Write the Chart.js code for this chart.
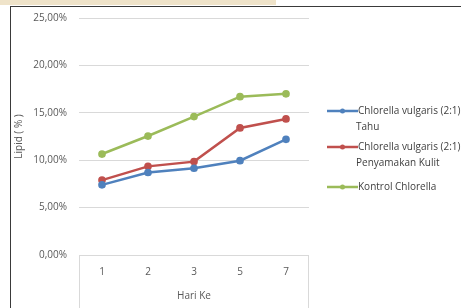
<!DOCTYPE html>
<html>
<head>
  <meta charset="utf-8">
  <title>Lipid Chlorella</title>
  <script src="https://cdn.jsdelivr.net/npm/chart.js"></script>
  <style>
    body { margin: 0; padding: 0; background: #fff; overflow: hidden; }
    #strip { position: absolute; left: 0; top: 0; width: 276px; height: 5px; background: #efe3c9; }
    #frame { position: absolute; left: 10px; top: 6px; width: 460px; height: 320px;
             border-top: 1px solid #3a3a3a; border-left: 1px solid #3a3a3a; }
    #wrap { position: absolute; left: 0; top: 0; width: 461px; height: 308px; }
  </style>
</head>
<body>
  <div id="strip"></div>
  <div id="frame"></div>
  <div id="wrap"><canvas id="chart"></canvas></div>

  <script>
    // data
    const days = ['1', '2', '3', '5', '7'];
    const tahu = [7.4, 8.7, 9.15, 9.95, 12.2];
    const kulit = [7.9, 9.35, 9.85, 13.4, 14.35];
    const kontrol = [10.65, 12.55, 14.6, 16.7, 17.0];
    const seriesNames = [
      ['Chlorella vulgaris (2:1) + Limbah', 'Tahu'],
      ['Chlorella vulgaris (2:1) + Limbah', 'Penyamakan Kulit'],
      ['Kontrol Chlorella']
    ];
    const colors = ['#4f81bd', '#c0504d', '#9bbb59'];

    const fontFam = "'Open Sans', 'Liberation Sans', sans-serif";
    const fontSize = 10;

    // draws the side legend and the box under the category axis
    const extras = {
      id: 'extras',
      afterDraw(chart) {
        const ctx = chart.ctx;
        const area = chart.chartArea;
        ctx.save();
        ctx.strokeStyle = '#d9d9d9';
        ctx.lineWidth = 1;
        ctx.beginPath();
        ctx.moveTo(area.left + 0.5, area.bottom);
        ctx.lineTo(area.left + 0.5, 308);
        ctx.moveTo(area.right - 0.5, area.bottom);
        ctx.lineTo(area.right - 0.5, 308);
        ctx.stroke();

        const ys = [111, 147, 187];
        ctx.font = fontSize + 'px ' + fontFam;
        ctx.textBaseline = 'middle';
        ctx.textAlign = 'left';
        chart.data.datasets.forEach((ds, i) => {
          const y = ys[i];
          ctx.strokeStyle = ds.borderColor;
          ctx.lineWidth = 2.5;
          ctx.beginPath();
          ctx.moveTo(327, y);
          ctx.lineTo(358, y);
          ctx.stroke();
          ctx.fillStyle = ds.borderColor;
          ctx.beginPath();
          ctx.arc(342.5, y, 2.5, 0, Math.PI * 2);
          ctx.fill();
          ctx.fillStyle = '#404040';
          ds.label.forEach((line, j) => {
            ctx.fillText(line, j === 0 ? 358 : 356, y + j * 16);
          });
        });
        ctx.restore();
      }
    };

    const makeSet = (i, values) => ({
      label: seriesNames[i],
      data: values,
      borderColor: colors[i],
      backgroundColor: colors[i],
      borderWidth: 2.5,
      pointRadius: 2.6,
      pointHoverRadius: 2.6,
      tension: 0
    });

    new Chart(document.getElementById('chart'), {
      type: 'line',
      data: {
        labels: days,
        datasets: [makeSet(0, tahu), makeSet(1, kulit), makeSet(2, kontrol)]
      },
      options: {
        responsive: true,
        maintainAspectRatio: false,
        animation: false,
        layout: { padding: { left: 10, top: 17, right: 152, bottom: 0 } },
        plugins: { legend: { display: false }, tooltip: { enabled: false } },
        scales: {
          x: {
            offset: true,
            grid: { display: false, drawTicks: false },
            border: { display: false },
            ticks: { color: '#595959', padding: 11, font: { size: fontSize, family: fontFam } },
            title: { display: true, text: 'Hari Ke', color: '#595959',
                     padding: { top: 0, bottom: 6 }, font: { size: fontSize, family: fontFam } },
            afterFit(scale) { scale.height = 53; }
          },
          y: {
            min: 0,
            max: 25,
            grid: { color: '#d9d9d9', drawTicks: false },
            border: { display: false },
            ticks: {
              stepSize: 5,
              color: '#595959',
              padding: 12,
              font: { size: fontSize, family: fontFam },
              callback: v => v.toFixed(2).replace('.', ',') + '%'
            },
            title: { display: true, text: 'Lipid ( % )', color: '#595959',
                     padding: { top: 3, bottom: 0 }, font: { size: fontSize, family: fontFam } },
            afterFit(scale) { scale.width = 69; }
          }
        }
      },
      plugins: [extras]
    });
  </script>
</body>
</html>
